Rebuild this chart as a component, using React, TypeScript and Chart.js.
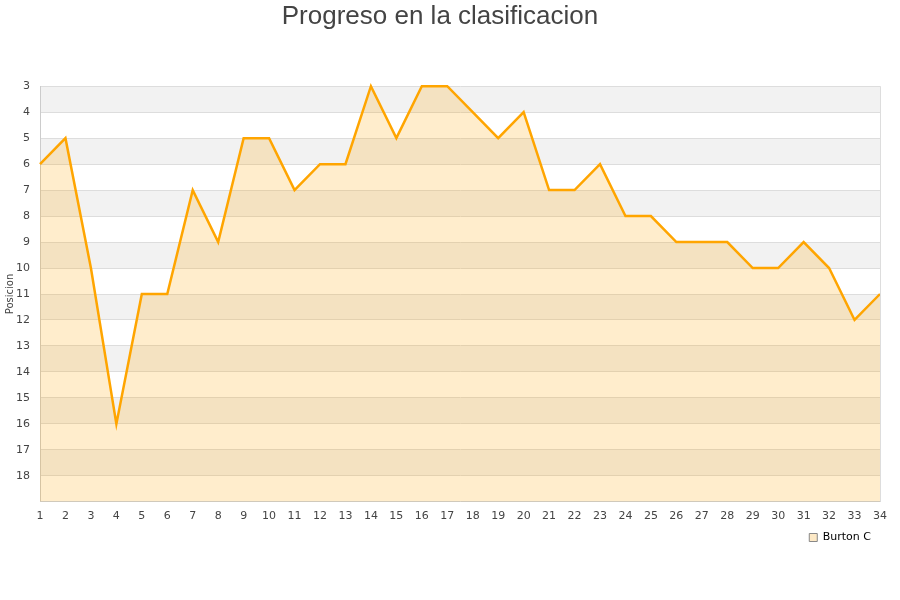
import React, { useEffect, useRef } from "react";
import { Chart, registerables } from "chart.js";

Chart.register(...registerables);

const TITLE = "Progreso en la clasificacion";
const SERIES_NAME = "Burton C";
const AXIS_TITLE = "Posicion";
const jornadas = [1, 2, 3, 4, 5, 6, 7, 8, 9, 10, 11, 12, 13, 14, 15, 16, 17, 18, 19, 20, 21, 22, 23, 24, 25, 26, 27, 28, 29, 30, 31, 32, 33, 34];
const posiciones = [6, 5, 10, 16, 11, 11, 7, 9, 5, 5, 7, 6, 6, 3, 5, 3, 3, 4, 5, 4, 7, 7, 6, 8, 8, 9, 9, 9, 10, 10, 9, 10, 12, 11];
const Y_MIN = 3;
const Y_MAX = 19;

const bandPlugin = {
  id: "bands",
  beforeDraw(chart: any) {
    const { ctx, chartArea, scales } = chart;
    const y = scales.y;
    ctx.save();
    ctx.fillStyle = "#f2f2f2";
    for (let v = Y_MIN; v < Y_MAX; v += 2) {
      const p1 = y.getPixelForValue(v);
      const p2 = y.getPixelForValue(v + 1);
      ctx.fillRect(chartArea.left, Math.min(p1, p2), chartArea.right - chartArea.left, Math.abs(p2 - p1));
    }
    ctx.restore();
  },
  afterDraw(chart: any) {
    const { ctx, chartArea } = chart;
    ctx.save();
    ctx.strokeStyle = "#dddddd";
    ctx.lineWidth = 1;
    ctx.beginPath();
    ctx.moveTo(Math.round(chartArea.right) + 0.5, chartArea.top);
    ctx.lineTo(Math.round(chartArea.right) + 0.5, chartArea.bottom);
    ctx.stroke();
    ctx.restore();
  },
};

export default function App() {
  const ref = useRef<HTMLCanvasElement>(null);
  useEffect(() => {
    if (!ref.current) return;
    const chart = new Chart(ref.current, {
      type: "line",
      data: {
        datasets: [
          {
            label: SERIES_NAME,
            data: jornadas.map((j, i) => ({ x: j, y: posiciones[i] })),
            borderColor: "#ffa500",
            backgroundColor: "rgba(255,165,0,0.2)",
            borderWidth: 2.5,
            pointRadius: 0,
            tension: 0,
            fill: "start",
            clip: false as any,
          },
        ],
      },
      options: {
        animation: false,
        responsive: false,
        layout: { padding: { left: 0, right: 20, top: 0, bottom: 47 } },
        plugins: {
          title: {
            display: true,
            text: TITLE,
            color: "#444444",
            font: { family: "'Liberation Sans', Arial, sans-serif", size: 26, weight: "normal" },
            padding: { top: 1, bottom: 54 },
          },
          legend: {
            position: "bottom",
            align: "end",
            labels: {
              boxWidth: 8,
              boxHeight: 8,
              padding: 9,
              color: "#222",
              font: { family: "'DejaVu Sans', sans-serif", size: 11 },
              generateLabels: () => [
                { text: SERIES_NAME, fillStyle: "#fde9c6", strokeStyle: "#888888", lineWidth: 1, datasetIndex: 0 } as any,
              ],
            },
          },
          tooltip: { enabled: false },
        },
        scales: {
          x: {
            type: "linear",
            min: 1,
            max: 34,
            ticks: {
              stepSize: 1,
              color: "#444",
              font: { family: "'DejaVu Sans', sans-serif", size: 11 },
              maxRotation: 0,
              autoSkip: false,
              padding: 0,
            },
            grid: { display: false },
            border: { display: true, color: "#cccccc" },
          },
          y: {
            type: "linear",
            reverse: true,
            min: Y_MIN,
            max: Y_MAX,
            afterFit: (s: any) => {
              s.width = 40;
            },
            ticks: {
              stepSize: 1,
              color: "#444",
              font: { family: "'DejaVu Sans', sans-serif", size: 11 },
              padding: 10,
              callback: (v: any) => (v === Y_MAX ? "" : String(v)),
            },
            grid: { color: "#dddddd", drawTicks: false },
            border: { display: true, color: "#cccccc" },
            title: {
              display: true,
              text: AXIS_TITLE,
              color: "#444",
              font: { family: "'DejaVu Sans', sans-serif", size: 10 },
              padding: { top: 4, bottom: 0 },
            },
          },
        },
      },
      plugins: [bandPlugin],
    });
    return () => chart.destroy();
  }, []);
  return (
    <div style={{ position: "fixed", left: 0, top: 0, width: 900, height: 600, background: "#fff" }}>
      <canvas ref={ref} width={900} height={600} style={{ width: 900, height: 600 }} />
    </div>
  );
}
